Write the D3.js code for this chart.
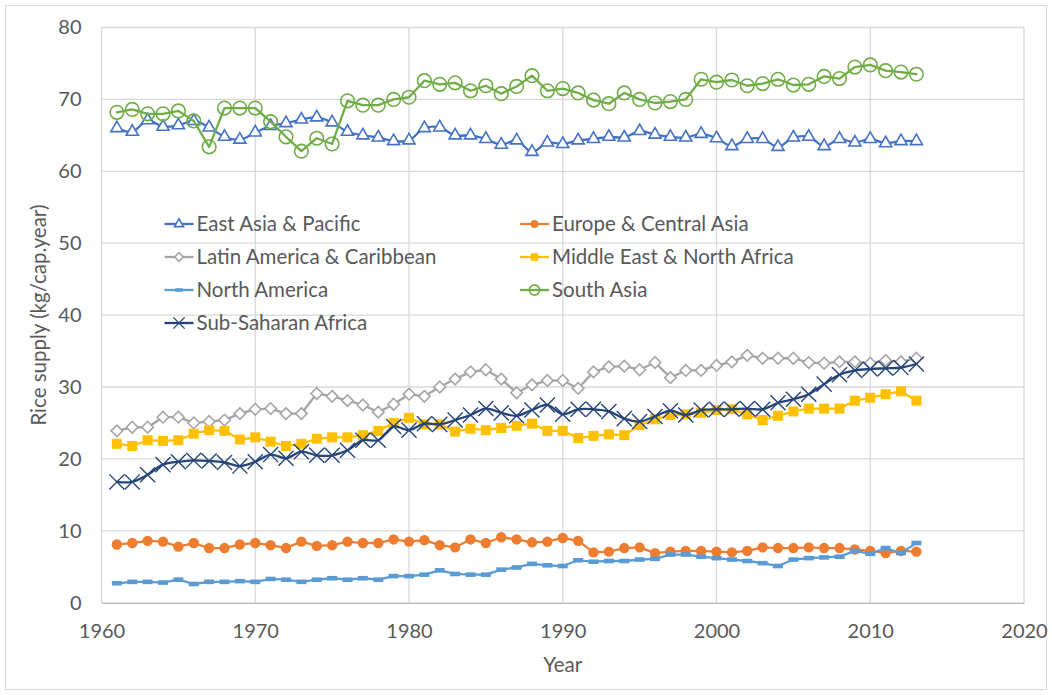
<!DOCTYPE html>
<html>
<head>
<meta charset="utf-8">
<script src="https://cdn.jsdelivr.net/npm/d3@7"></script>
<style>
  body { margin: 0; background: #fff; }
  text { font-family: Lato, "Open Sans", sans-serif; fill: #595959; }
</style>
</head>
<body>
<div class="canvas"></div>
<script>
const years = [1961,1962,1963,1964,1965,1966,1967,1968,1969,1970,
  1971,1972,1973,1974,1975,1976,1977,1978,1979,1980,
  1981,1982,1983,1984,1985,1986,1987,1988,1989,1990,
  1991,1992,1993,1994,1995,1996,1997,1998,1999,2000,
  2001,2002,2003,2004,2005,2006,2007,2008,2009,2010,
  2011,2012,2013];

const eastAsia = [66.0,65.5,67.1,66.2,66.4,67.0,66.1,64.8,64.4,65.4,
  66.3,66.7,67.2,67.5,66.8,65.5,65.0,64.7,64.2,64.3,
  66.0,66.1,65.0,65.0,64.5,63.7,64.3,62.7,64.0,63.8,
  64.3,64.5,64.8,64.7,65.6,65.1,64.8,64.7,65.2,64.6,
  63.5,64.5,64.5,63.4,64.7,64.8,63.5,64.5,64.0,64.5,
  63.9,64.2,64.2];
const europe = [8.1,8.3,8.6,8.5,7.8,8.3,7.6,7.6,8.1,8.3,
  8.0,7.6,8.5,7.9,8.0,8.5,8.3,8.3,8.8,8.5,
  8.7,8.0,7.7,8.8,8.3,9.1,8.8,8.4,8.5,9.0,
  8.6,7.0,7.1,7.6,7.7,6.9,7.1,7.2,7.2,7.1,
  7.0,7.2,7.7,7.6,7.6,7.7,7.6,7.6,7.4,7.2,
  6.9,7.2,7.1];
const latinAmerica = [23.9,24.4,24.4,25.8,25.8,25.0,25.2,25.4,26.3,26.9,
  27.0,26.3,26.3,29.1,28.7,28.1,27.5,26.5,27.6,29.0,
  28.7,30.0,31.1,32.1,32.4,31.1,29.2,30.3,30.9,30.9,
  29.8,32.1,32.8,32.9,32.4,33.4,31.3,32.3,32.3,33.0,
  33.5,34.4,34.0,34.0,34.0,33.4,33.3,33.5,33.5,33.3,
  33.7,33.5,34.0];
const middleEast = [22.1,21.8,22.6,22.5,22.6,23.5,24.0,23.9,22.7,23.0,
  22.4,21.8,22.1,22.8,23.0,23.0,23.3,23.9,25.0,25.7,
  24.8,24.8,23.8,24.2,24.0,24.3,24.6,24.9,23.9,23.9,
  22.9,23.2,23.4,23.3,24.7,25.5,26.1,26.2,26.4,26.8,
  26.9,26.2,25.4,26.0,26.6,27.0,27.0,27.0,28.1,28.5,
  29.0,29.4,28.1];
const northAmerica = [2.7,2.9,2.9,2.8,3.2,2.6,2.9,2.9,3.0,2.9,
  3.3,3.2,2.9,3.2,3.4,3.2,3.4,3.2,3.7,3.7,
  3.9,4.5,4.0,3.9,3.9,4.6,4.9,5.4,5.2,5.1,
  5.9,5.7,5.8,5.8,6.0,6.1,6.7,6.7,6.4,6.2,
  6.0,5.8,5.5,5.1,6.0,6.2,6.3,6.4,7.2,6.8,
  7.6,6.9,8.3];
const southAsia = [68.2,68.6,68.0,68.0,68.4,67.0,63.4,68.8,68.8,68.8,
  66.9,64.8,62.8,64.6,63.8,69.8,69.2,69.2,70.0,70.3,
  72.6,72.1,72.3,71.2,71.9,70.8,71.8,73.3,71.2,71.5,
  70.9,69.9,69.4,70.9,70.0,69.5,69.7,70.0,72.8,72.4,
  72.7,71.9,72.2,72.8,72.0,72.1,73.2,72.9,74.5,74.8,
  74.0,73.8,73.5];
const subSaharan = [16.8,16.8,17.8,19.2,19.6,19.8,19.7,19.5,19.0,19.6,
  20.6,20.1,21.0,20.5,20.5,21.2,22.6,22.6,24.5,24.0,
  24.9,24.8,25.4,26.1,27.0,26.4,26.0,26.8,27.5,26.2,
  26.9,26.9,26.6,25.6,25.2,25.9,26.7,26.1,26.8,26.9,
  26.9,27.0,26.9,27.8,28.3,29.0,30.4,31.7,32.3,32.5,
  32.6,32.7,33.2];

const xTicks = [1960,1970,1980,1990,2000,2010,2020];
const yTicks = [0,10,20,30,40,50,60,70,80];

const series = [
  { name: 'East Asia & Pacific', values: eastAsia, color: '#4472c4', marker: 'triangle', smooth: true },
  { name: 'Europe & Central Asia', values: europe, color: '#ed7d31', marker: 'dot', smooth: false },
  { name: 'Latin America & Caribbean', values: latinAmerica, color: '#a5a5a5', marker: 'diamond', smooth: false },
  { name: 'Middle East & North Africa', values: middleEast, color: '#ffc000', marker: 'square', smooth: false },
  { name: 'North America', values: northAmerica, color: '#5b9bd5', marker: 'dash', smooth: false },
  { name: 'South Asia', values: southAsia, color: '#70ad47', marker: 'ring', smooth: false },
  { name: 'Sub-Saharan Africa', values: subSaharan, color: '#264478', marker: 'cross', smooth: true }
];

const width = 1052;
const height = 695;
const margin = { top: 27.5, right: 28, bottom: 92.3, left: 101.5 };
const graphWidth = width - margin.left - margin.right;
const graphHeight = height - margin.top - margin.bottom;

const svg = d3.select('.canvas')
  .append('svg')
  .attr('width', width)
  .attr('height', height);

// outer chart border
svg.append('rect')
  .attr('x', 5.5).attr('y', 5.5)
  .attr('width', width - 11).attr('height', height - 11)
  .attr('fill', 'none')
  .attr('stroke', '#d9d9d9');

const graph = svg.append('g')
  .attr('transform', `translate(${margin.left}, ${margin.top})`);

const x = d3.scaleLinear().domain([1960, 2020]).range([0, graphWidth]);
const y = d3.scaleLinear().domain([0, 80]).range([graphHeight, 0]);

// gridlines
graph.append('g')
  .selectAll('line.h')
  .data(yTicks.filter(d => d > 0))
  .enter().append('line')
  .attr('x1', 0).attr('x2', graphWidth)
  .attr('y1', d => y(d)).attr('y2', d => y(d))
  .attr('stroke', '#d9d9d9').attr('stroke-width', 1.3);

graph.append('g')
  .selectAll('line.v')
  .data(xTicks)
  .enter().append('line')
  .attr('x1', d => x(d)).attr('x2', d => x(d))
  .attr('y1', 0).attr('y2', graphHeight)
  .attr('stroke', '#d9d9d9').attr('stroke-width', 1.3);

// axes
const xAxisGroup = graph.append('g')
  .attr('transform', `translate(0, ${graphHeight})`)
  .call(d3.axisBottom(x).tickValues(xTicks).tickFormat(d3.format('d')).tickSize(0).tickPadding(21));
xAxisGroup.select('.domain').attr('stroke', '#bfbfbf').attr('stroke-width', 1.5);

const yAxisGroup = graph.append('g')
  .call(d3.axisLeft(y).tickValues(yTicks).tickSize(0).tickPadding(20));
yAxisGroup.select('.domain').remove();

graph.selectAll('.tick text')
  .attr('font-size', 20)
  .attr('font-family', 'Lato, sans-serif')
  .attr('fill', '#595959');

// axis titles
svg.append('text')
  .text('Year')
  .attr('x', margin.left + graphWidth / 2)
  .attr('y', 672)
  .attr('text-anchor', 'middle')
  .attr('font-size', 20.5);

svg.append('text')
  .text('Rice supply (kg/cap.year)')
  .attr('transform', `translate(46, ${margin.top + graphHeight / 2}) rotate(-90)`)
  .attr('text-anchor', 'middle')
  .attr('font-size', 20.5);

// marker shapes
const drawMarker = (sel, s, scale) => {
  const k = scale || 1;
  if (s.marker === 'triangle') {
    sel.append('path')
      .attr('d', d3.symbol().type(d3.symbolTriangle2).size(105 * k * k))
      .attr('fill', '#fff').attr('stroke', s.color).attr('stroke-width', 1.6);
  } else if (s.marker === 'dot') {
    sel.append('circle').attr('r', 5.2 * k).attr('fill', s.color);
  } else if (s.marker === 'diamond') {
    sel.append('path')
      .attr('d', d3.symbol().type(d3.symbolDiamond2).size(85 * k * k))
      .attr('fill', '#fff').attr('stroke', s.color).attr('stroke-width', 1.6);
  } else if (s.marker === 'square') {
    sel.append('rect')
      .attr('x', -5 * k).attr('y', -5 * k)
      .attr('width', 10 * k).attr('height', 10 * k)
      .attr('fill', s.color);
  } else if (s.marker === 'dash') {
    sel.append('rect')
      .attr('x', -5 * k).attr('y', -2.3 * k)
      .attr('width', 10 * k).attr('height', 4.6 * k)
      .attr('fill', s.color);
  } else if (s.marker === 'ring') {
    sel.append('circle').attr('r', 6.8 * k)
      .attr('fill', 'none').attr('stroke', s.color).attr('stroke-width', 1.6);
  } else if (s.marker === 'cross') {
    sel.append('path')
      .attr('d', d3.symbol().type(d3.symbolTimes).size(150 * k * k))
      .attr('fill', 'none').attr('stroke', s.color).attr('stroke-width', 1.4);
  }
};

// lines + markers
series.forEach(s => {
  const pts = years.map((yr, i) => ({ year: yr, value: s.values[i] }));
  const line = d3.line()
    .x(d => x(d.year))
    .y(d => y(d.value))
    .curve(s.smooth ? d3.curveCatmullRom.alpha(0.5) : d3.curveLinear);

  const g = graph.append('g');
  g.append('path')
    .datum(pts)
    .attr('d', line)
    .attr('fill', 'none')
    .attr('stroke', s.color)
    .attr('stroke-width', 2.3)
    .attr('stroke-linejoin', 'round')
    .attr('stroke-linecap', 'round');

  g.selectAll('g.m')
    .data(pts)
    .enter().append('g')
    .attr('transform', d => `translate(${x(d.year)}, ${y(d.value)})`)
    .each(function() { drawMarker(d3.select(this), s, 1); });
});

// legend
const legendCols = [164.5, 520];
const legendRows = [224, 257, 290, 323];
series.forEach((s, i) => {
  const lx = legendCols[i % 2];
  const ly = legendRows[Math.floor(i / 2)];
  const item = svg.append('g').attr('transform', `translate(${lx}, ${ly})`);
  item.append('line')
    .attr('x1', 0).attr('x2', 29)
    .attr('y1', 0).attr('y2', 0)
    .attr('stroke', s.color).attr('stroke-width', 2.3);
  const m = item.append('g').attr('transform', 'translate(14.5, 0)');
  drawMarker(m, s, 0.75);
  item.append('text')
    .text(s.name)
    .attr('x', 32)
    .attr('y', 0)
    .attr('dy', '0.35em')
    .attr('font-size', 20.5);
});
</script>
</body>
</html>
